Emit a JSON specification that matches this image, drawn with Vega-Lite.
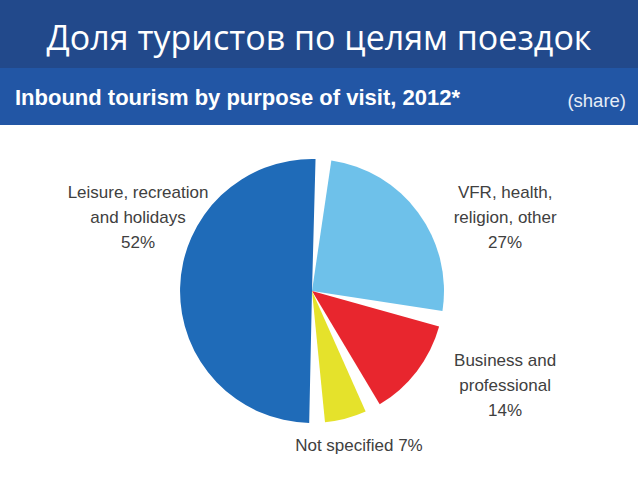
{
  "$schema": "https://vega.github.io/schema/vega-lite/v6.json",
  "padding": 0,
  "background": "#ffffff",
  "config": {"view": {"stroke": null}, "concat": {"spacing": 0}},
  "spacing": 0,
  "vconcat": [
    {
      "width": 638,
      "height": 68,
      "view": {"fill": "#22498b", "stroke": null},
      "data": {"values": [{"t": "Доля туристов по целям поездок"}]},
      "mark": {"type": "text", "font": "Open Sans", "fontSize": 34, "color": "#ffffff", "baseline": "alphabetic", "align": "center", "dy": 16},
      "encoding": {"text": {"field": "t"}}
    },
    {
      "width": 638,
      "height": 57,
      "view": {"fill": "#2256a5", "stroke": null},
      "data": {"values": [{"t": "Inbound tourism by purpose of visit, 2012*", "s": "(share)"}]},
      "layer": [
        {
          "mark": {"type": "text", "font": "Liberation Sans", "fontWeight": "bold", "fontSize": 22, "color": "#ffffff", "align": "left", "baseline": "alphabetic", "dx": 15, "dy": 8},
          "encoding": {
            "x": {"datum": 0, "type": "quantitative", "scale": {"domain": [0, 1]}, "axis": null},
            "text": {"field": "t"}
          }
        },
        {
          "mark": {"type": "text", "font": "Liberation Sans", "fontSize": 18.5, "color": "#e6edf7", "align": "right", "baseline": "alphabetic", "dx": -12, "dy": 10},
          "encoding": {
            "x": {"datum": 1, "type": "quantitative", "scale": {"domain": [0, 1]}, "axis": null},
            "text": {"field": "s"}
          }
        }
      ]
    },
    {
      "width": 624,
      "height": 332,
      "view": {"fill": "#ffffff", "stroke": null},
      "data": {"values": [
        {"purpose": "VFR, health, religion, other", "share": 27, "order": 1, "label": "VFR, health,\nreligion, other\n27%"},
        {"purpose": "Business and professional", "share": 14, "order": 2, "label": "Business and\nprofessional\n14%"},
        {"purpose": "Not specified", "share": 7, "order": 3, "label": "Not specified 7%"},
        {"purpose": "Leisure, recreation and holidays", "share": 52, "order": 4, "label": "Leisure, recreation\nand holidays\n52%"}
      ]},
      "encoding": {
        "theta": {"field": "share", "type": "quantitative", "stack": true, "scale": {"range": [0.087, 6.370]}},
        "order": {"field": "order", "type": "quantitative"}
      },
      "layer": [
        {
          "mark": {"type": "arc", "outerRadius": 132, "padAngle": 0.12},
          "encoding": {
            "color": {
              "field": "purpose",
              "type": "nominal",
              "legend": null,
              "scale": {
                "domain": ["VFR, health, religion, other", "Business and professional", "Not specified", "Leisure, recreation and holidays"],
                "range": ["#6ec1ea", "#e8262e", "#e5e22b", "#1f6bb8"]
              }
            }
          }
        },
        {
          "mark": {"type": "text", "clip": true, "radius": 174, "dy": -94, "font": "Liberation Sans", "fontSize": 17, "lineHeight": 25, "lineBreak": "\n", "color": "#404040", "align": "center", "baseline": "middle"},
          "encoding": {"text": {"condition": {"test": "datum.order == 4", "field": "label"}, "value": ""}}
        },
        {
          "mark": {"type": "text", "clip": true, "radius": 240, "dy": 44, "font": "Liberation Sans", "fontSize": 17, "lineHeight": 25, "lineBreak": "\n", "color": "#404040", "align": "center", "baseline": "middle"},
          "encoding": {"text": {"condition": {"test": "datum.order == 1", "field": "label"}, "value": ""}}
        },
        {
          "mark": {"type": "text", "clip": true, "radius": 243, "dy": -78, "font": "Liberation Sans", "fontSize": 17, "lineHeight": 25, "lineBreak": "\n", "color": "#404040", "align": "center", "baseline": "middle"},
          "encoding": {"text": {"condition": {"test": "datum.order == 2", "field": "label"}, "value": ""}}
        },
        {
          "mark": {"type": "text", "clip": true, "radius": 160, "dx": 6, "font": "Liberation Sans", "fontSize": 17, "lineHeight": 25, "lineBreak": "\n", "color": "#404040", "align": "center", "baseline": "middle"},
          "encoding": {"text": {"condition": {"test": "datum.order == 3", "field": "label"}, "value": ""}}
        }
      ]
    }
  ]
}
